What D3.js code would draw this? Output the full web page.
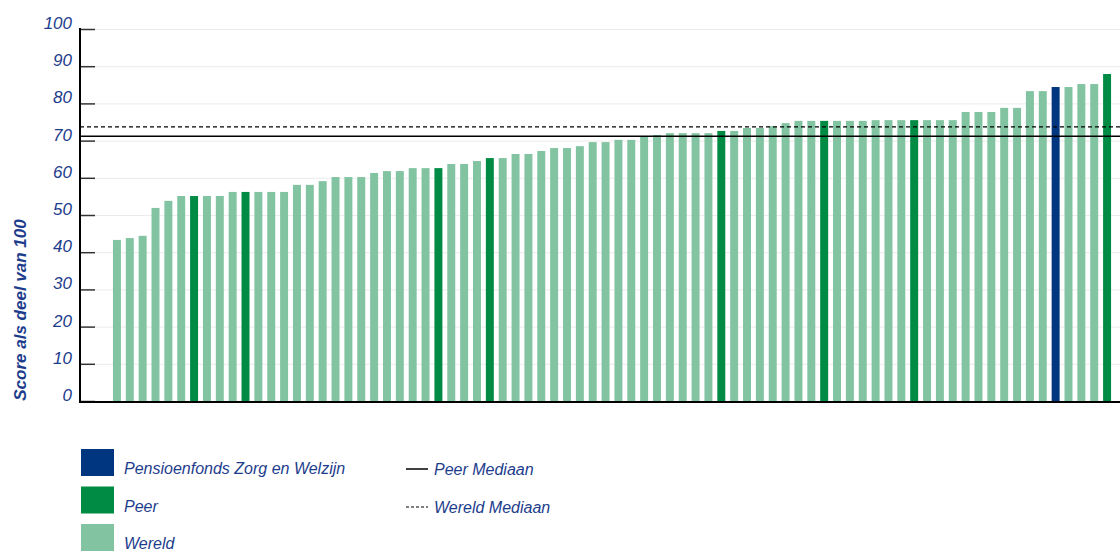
<!DOCTYPE html>
<html>
<head>
<meta charset="utf-8">
<script src="https://cdn.jsdelivr.net/npm/d3@7"></script>
<style>
    body { margin: 0; background: #fff; }
    svg { display: block; font-family: "Liberation Sans", Arial, sans-serif; }
</style>
</head>
<body>
<div id="chart"></div>
<script>

    // scores per fund, sorted low -> high
    var scores = [
        43.3, 43.8, 44.4, 51.9, 53.8, 55.1, 55.1, 55.1, 55.1, 56.2,
        56.2, 56.2, 56.2, 56.2, 58.1, 58.1, 59.1, 60.2, 60.2, 60.2,
        61.3, 61.8, 61.8, 62.6, 62.6, 62.6, 63.7, 63.7, 64.5, 65.3,
        65.3, 66.4, 66.4, 67.2, 68.0, 68.0, 68.5, 69.6, 69.6, 70.2,
        70.2, 71.0, 71.5, 72.0, 72.0, 72.0, 72.0, 72.6, 72.6, 73.4,
        73.4, 73.9, 74.7, 75.3, 75.3, 75.3, 75.3, 75.3, 75.3, 75.5,
        75.5, 75.5, 75.5, 75.5, 75.5, 75.5, 77.7, 77.7, 77.7, 78.8,
        78.8, 83.3, 83.3, 84.4, 84.4, 85.2, 85.2, 87.9
    ];

    // which bars are peers and which one is PFZW (0-based)
    var peerIdx = [6, 10, 25, 29, 47, 55, 62, 77];
    var fundIdx = [73];

    var peerMedian = 71.2;
    var worldMedian = 73.7;

    var yTicks = [0, 10, 20, 30, 40, 50, 60, 70, 80, 90, 100];

    var legendBoxes = ["Pensioenfonds Zorg en Welzijn", "Peer", "Wereld"];
    var legendLines = ["Peer Mediaan", "Wereld Mediaan"];

    var colors = { fund: "#00357f", peer: "#008b45", world: "#82c4a1" };
    var textBlue = "#1d3d8c";

    var w = 1120, h = 551;

    var svg = d3.select("#chart").append("svg")
        .attr("width", w)
        .attr("height", h);

    var xScale = d3.scaleBand()
        .domain(d3.range(scores.length))
        .range([110.5, 1113.5])
        .paddingInner(0.38)
        .paddingOuter(0.19);

    var yScale = d3.scaleLinear()
        .domain([0, 100])
        .range([401, 29]);

    function barColor(i) {
        if (fundIdx.indexOf(i) >= 0) return colors.fund;
        if (peerIdx.indexOf(i) >= 0) return colors.peer;
        return colors.world;
    }

    // light grid
    svg.append("g").selectAll("line")
        .data(yTicks)
        .enter().append("line")
        .attr("x1", 95)
        .attr("x2", w)
        .attr("y1", function(d) { return yScale(d) + 0.5; })
        .attr("y2", function(d) { return yScale(d) + 0.5; })
        .style("stroke", "#ebebeb")
        .style("stroke-width", 1);

    // bars
    svg.append("g").selectAll("rect")
        .data(scores)
        .enter().append("rect")
        .attr("x", function(d, i) { return xScale(i); })
        .attr("y", function(d) { return yScale(d); })
        .attr("width", xScale.bandwidth())
        .attr("height", function(d) { return yScale(0) - yScale(d); })
        .attr("fill", function(d, i) { return barColor(i); });

    // medians
    svg.append("line")
        .attr("x1", 80).attr("x2", w)
        .attr("y1", yScale(peerMedian)).attr("y2", yScale(peerMedian))
        .style("stroke", "#000")
        .style("stroke-width", 1.5);

    svg.append("line")
        .attr("x1", 80).attr("x2", w)
        .attr("y1", yScale(worldMedian)).attr("y2", yScale(worldMedian))
        .style("stroke", "#000")
        .style("stroke-width", 1.2)
        .style("stroke-dasharray", "4,3");

    // y axis, ticks pointing inward
    var yAxis = d3.axisLeft(yScale)
        .tickValues(yTicks)
        .tickSize(-15)
        .tickPadding(8);

    var gy = svg.append("g")
        .attr("transform", "translate(80,0)")
        .call(yAxis);

    gy.select(".domain").remove();
    gy.selectAll(".tick line")
        .style("stroke", "#333")
        .style("stroke-width", 1.5);
    gy.selectAll(".tick text")
        .attr("y", -6)
        .style("font-size", "17px")
        .style("font-style", "italic")
        .style("fill", textBlue);

    // axis lines
    svg.append("line")
        .attr("x1", 80).attr("x2", 80)
        .attr("y1", 28).attr("y2", 403)
        .style("stroke", "#000")
        .style("stroke-width", 2);

    svg.append("line")
        .attr("x1", 79).attr("x2", w)
        .attr("y1", 402).attr("y2", 402)
        .style("stroke", "#000")
        .style("stroke-width", 2);

    svg.append("text")
        .attr("transform", "translate(26,310) rotate(-90)")
        .attr("text-anchor", "middle")
        .style("font-size", "17px")
        .style("font-weight", "bold")
        .style("font-style", "italic")
        .style("fill", textBlue)
        .text("Score als deel van 100");

    // legend - boxes
    var boxColors = [colors.fund, colors.peer, colors.world];

    var lb = svg.append("g").selectAll("g")
        .data(legendBoxes)
        .enter().append("g")
        .attr("transform", function(d, i) { return "translate(81," + (449 + i * 37.5) + ")"; });

    lb.append("rect")
        .attr("width", 33)
        .attr("height", 27)
        .attr("fill", function(d, i) { return boxColors[i]; });

    lb.append("text")
        .attr("x", 43)
        .attr("y", 25)
        .style("font-size", "16px")
        .style("font-style", "italic")
        .style("fill", textBlue)
        .text(function(d) { return d; });

    // legend - lines
    var ll = svg.append("g").selectAll("g")
        .data(legendLines)
        .enter().append("g")
        .attr("transform", function(d, i) { return "translate(406," + (469 + i * 38) + ")"; });

    ll.append("line")
        .attr("x1", 0).attr("x2", 22)
        .style("stroke", "#000")
        .style("stroke-width", function(d, i) { return i === 0 ? 1.5 : 1.2; })
        .style("stroke-dasharray", function(d, i) { return i === 0 ? null : "3,2"; });

    ll.append("text")
        .attr("x", 28)
        .attr("y", 6)
        .style("font-size", "16px")
        .style("font-style", "italic")
        .style("fill", textBlue)
        .text(function(d) { return d; });

</script>
</body>
</html>
